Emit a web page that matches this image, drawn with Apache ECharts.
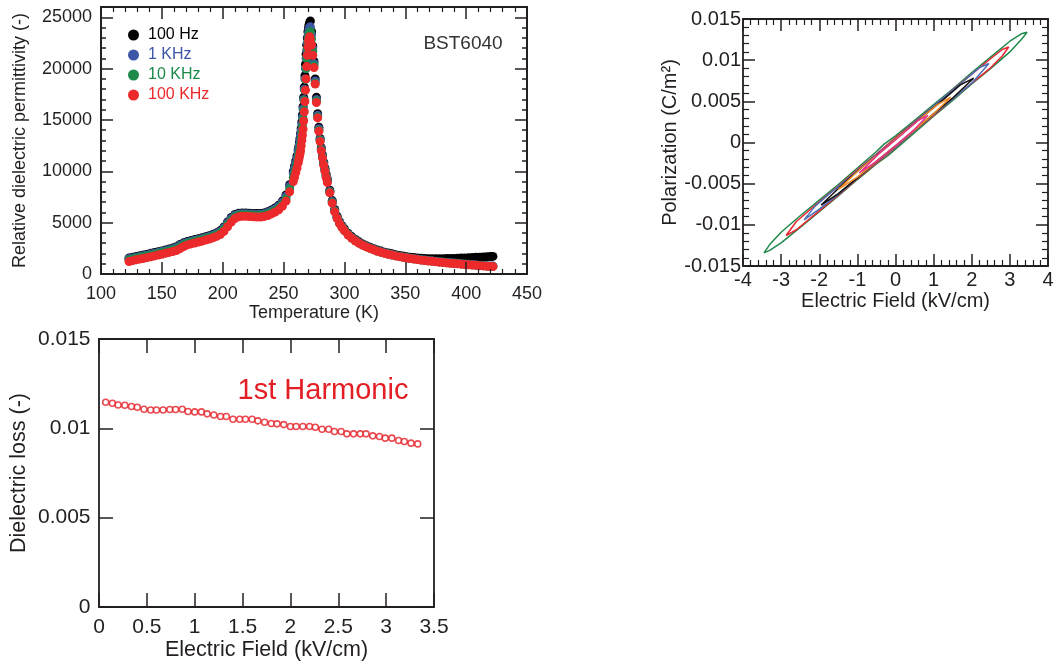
<!DOCTYPE html>
<html><head><meta charset="utf-8">
<script src="https://cdn.jsdelivr.net/npm/echarts@6/dist/echarts.min.js"></script>
<style>html,body{margin:0;padding:0;background:#fff}#c{width:1060px;height:662px}</style>
</head><body><div id="c"></div>
<script>
// ---------- Panel 1: relative permittivity vs temperature ----------
const temperatureK = [
123,126,129,132,135,138,141,144,147,150,
153,156,159,162,165,168,171,174,177,180,
183,186,189,192,195,198,201,204,207,210,
213,216,219,222,225,228,231,234,237,240,
243,246,249,252,255,258,259,260,261,262,
262.5,263,263.5,264,264.5,265,265.5,266,266.5,267,
267.5,268,268.5,269,269.5,270,270.5,271,271.5,272,
273,274,275,276,277,278,279,280,281,282,
283,284,285,286,288,290,292,294,296,298,
300,303,306,309,312,315,318,321,324,327,
330,333,336,339,342,345,348,351,354,357,
360,363,366,369,372,375,378,381,384,387,
390,393,396,399,402,405,408,411,414,417,
420,422];
const eps100Hz = [
1550,1630,1710,1780,1850,1930,2010,2090,2170,2250,
2340,2430,2530,2650,2870,3050,3170,3260,3350,3440,
3530,3630,3730,3860,4010,4230,4580,5070,5500,5800,
5920,5940,5930,5910,5890,5880,5890,5950,6060,6230,
6430,6700,7100,7700,8700,10000,10500,11000,11500,12100,
12400,12800,13200,13700,14200,14800,15500,16300,17200,18200,
19300,20400,21400,22300,23000,23600,24000,24300,24500,24640,
23600,22200,20700,19000,17200,15600,14300,13200,12300,11600,
10900,10300,9700,9200,8150,7150,6280,5620,5100,4700,
4380,3970,3640,3360,3130,2930,2760,2610,2470,2340,
2230,2130,2040,1960,1880,1810,1750,1690,1640,1600,
1560,1530,1510,1490,1480,1480,1480,1490,1500,1510,
1520,1540,1550,1570,1590,1600,1620,1640,1660,1680,
1700,1710];
const eps1kHz = [
1480,1560,1640,1710,1780,1860,1940,2020,2100,2180,
2270,2360,2460,2580,2790,2980,3100,3190,3280,3370,
3460,3560,3660,3790,3940,4150,4500,4980,5410,5720,
5850,5870,5860,5840,5810,5800,5810,5870,5980,6150,
6340,6600,6990,7560,8550,9800,10300,10800,11300,11900,
12200,12600,13000,13500,14000,14600,15300,16100,17000,18000,
19000,20000,21000,21800,22500,23100,23500,23850,24000,24080,
23300,22000,20500,18800,17000,15450,14150,13100,12200,11500,
10800,10200,9600,9100,8050,7050,6180,5520,5010,4620,
4300,3890,3560,3280,3050,2860,2690,2540,2400,2270,
2160,2060,1970,1890,1810,1740,1670,1610,1550,1500,
1450,1400,1360,1320,1280,1240,1200,1170,1130,1100,
1070,1040,1005,975,945,915,890,860,835,810,
785,770];
const eps10kHz = [
1390,1470,1550,1620,1690,1770,1850,1930,2010,2090,
2180,2270,2360,2460,2660,2860,3000,3100,3190,3280,
3370,3470,3570,3690,3830,4030,4350,4800,5240,5580,
5740,5780,5770,5750,5720,5700,5710,5760,5860,6010,
6190,6430,6800,7330,8300,9400,9850,10300,10800,11350,
11650,12000,12350,12750,13250,13800,14400,15100,15950,16900,
17900,18950,20000,21000,21900,22600,23100,23400,23550,23600,
22900,21700,20300,18600,16850,15300,14000,13000,12100,11400,
10700,10100,9500,9000,7980,6980,6120,5460,4960,4570,
4250,3850,3520,3240,3020,2830,2660,2510,2370,2240,
2130,2030,1940,1860,1780,1710,1640,1580,1520,1470,
1420,1370,1330,1290,1250,1210,1170,1140,1100,1070,
1040,1010,975,945,915,885,860,830,805,780,
755,740];
const eps100kHz = [
1220,1300,1380,1450,1520,1600,1680,1760,1840,1920,
2010,2100,2190,2290,2470,2680,2830,2930,3020,3110,
3200,3300,3400,3520,3660,3850,4150,4600,5050,5400,
5570,5620,5620,5600,5570,5550,5550,5600,5700,5850,
6020,6250,6600,7100,8000,9000,9400,9850,10300,10800,
11100,11400,11700,12000,12500,13000,13500,14100,14900,15800,
16800,17900,19000,20200,21300,22100,22700,23000,23100,22800,
22300,21300,20100,18500,16700,15200,13900,12900,12000,11300,
10600,10000,9400,8900,7900,6900,6050,5400,4900,4520,
4200,3800,3480,3210,2990,2800,2640,2490,2350,2220,
2110,2010,1920,1840,1760,1690,1620,1560,1500,1450,
1400,1350,1310,1270,1230,1190,1150,1120,1080,1050,
1020,990,955,925,895,865,840,810,785,760,
735,720];
const freqNames = ['100 Hz', '1 KHz', '10 KHz', '100 KHz'];
const freqColors = ['#000000', '#3d56a6', '#1b8a4b', '#ec2a2c'];

// ---------- Panel 2: P-E loops (lower branch left->right, then upper branch back) ----------
const greenLoopE = [-3.45,-3.3,-3.0,-2.5,-2.0,-1.5,-1.0,-0.5,-0.2,0.0,0.5,1.0,1.5,2.0,2.5,3.0,3.3,3.45,
  3.3,3.0,2.5,2.0,1.5,1.0,0.5,0.0,-0.3,-0.5,-1.0,-1.5,-2.0,-2.5,-3.0,-3.3,-3.45];
const greenLoopP = [-0.0134,-0.0131,-0.0122,-0.0103,-0.0084,-0.0065,-0.0045,-0.0026,-0.0016,-0.0008,0.0012,0.0032,0.0051,0.0071,0.0090,0.0110,0.0125,0.0134,
  0.0132,0.0123,0.0104,0.0085,0.0065,0.0046,0.0027,0.0008,-0.0002,-0.0011,-0.0031,-0.0051,-0.0070,-0.0089,-0.0109,-0.0124,-0.0134];
const redLoopE = [-2.87,-2.6,-2.0,-1.5,-1.0,-0.5,0.0,0.5,1.0,1.5,2.0,2.5,2.8,2.97,
  2.8,2.5,2.0,1.5,1.0,0.5,0.0,-0.5,-1.0,-1.5,-2.0,-2.6,-2.87];
const redLoopP = [-0.0113,-0.0106,-0.0083,-0.0064,-0.0044,-0.0025,-0.0006,0.0014,0.0033,0.0053,0.0072,0.0091,0.0105,0.0116,
  0.0113,0.0102,0.0083,0.0064,0.0044,0.0025,0.0006,-0.0014,-0.0033,-0.0053,-0.0072,-0.0096,-0.0113];
const blueLoopE = [-2.4,-2.0,-1.5,-1.0,-0.5,0.0,0.5,1.0,1.5,2.0,2.45,
  2.2,1.8,1.3,0.8,0.3,-0.2,-0.7,-1.2,-1.7,-2.1,-2.4];
const blueLoopP = [-0.0094,-0.0081,-0.0063,-0.0043,-0.0024,-0.0005,0.0014,0.0034,0.0053,0.0072,0.0096,
  0.0091,0.0075,0.0056,0.0036,0.0017,-0.0003,-0.0022,-0.0042,-0.0061,-0.0077,-0.0094];
const blackLoopE = [-1.95,-1.5,-1.0,-0.5,0.0,0.5,1.0,1.5,2.05,
  1.7,1.2,0.7,0.2,-0.3,-0.8,-1.3,-1.95];
const blackLoopP = [-0.0076,-0.0062,-0.0043,-0.0023,-0.0004,0.0015,0.0035,0.0054,0.0078,
  0.0070,0.0050,0.0031,0.0012,-0.0008,-0.0027,-0.0047,-0.0076];
const orangeLoopE = [-1.5,-1.0,-0.5,0.0,0.5,1.0,1.45,
  1.1,0.6,0.1,-0.4,-0.9,-1.5];
const orangeLoopP = [-0.0057,-0.0042,-0.0023,-0.0004,0.0015,0.0035,0.0055,
  0.0046,0.0027,0.0008,-0.0012,-0.0031,-0.0057];
const pinkLoopE = [-0.95,-0.5,0.0,0.5,0.85,
  0.6,0.1,-0.4,-0.95];
const pinkLoopP = [-0.0037,-0.0023,-0.0004,0.0016,0.0033,
  0.0027,0.0007,-0.0012,-0.0037];

// ---------- Panel 3: dielectric loss vs field ----------
const lossField = [0.07,0.14,0.20,0.27,0.34,0.40,0.47,0.54,0.60,0.67,
  0.74,0.80,0.87,0.93,1.00,1.07,1.13,1.20,1.27,1.33,
  1.40,1.47,1.53,1.60,1.66,1.73,1.80,1.86,1.93,2.00,
  2.06,2.13,2.20,2.26,2.33,2.40,2.46,2.53,2.59,2.66,
  2.73,2.79,2.86,2.93,2.99,3.06,3.13,3.19,3.26,3.33];
const lossValue = [0.01146,0.01140,0.01131,0.01129,0.01122,0.01118,0.01107,0.01103,0.01103,0.01103,
  0.01105,0.01105,0.01107,0.01094,0.01092,0.01092,0.01081,0.01075,0.01066,0.01066,
  0.01051,0.01051,0.01051,0.01051,0.01042,0.01034,0.01027,0.01025,0.01021,0.01010,
  0.01010,0.01010,0.01010,0.01006,0.00995,0.00995,0.00982,0.00982,0.00969,0.00969,
  0.00969,0.00969,0.00958,0.00954,0.00945,0.00945,0.00932,0.00926,0.00917,0.00913];

// ---------- helpers ----------
const FONT = "'Liberation Sans', Arial, Helvetica, sans-serif";
const INK = '#231f20';
function pairs(xs, ys) { return xs.map((x, i) => [x, ys[i]]); }
function fmt(v) { return String(+(+v).toFixed(6)); }

function mkAxis(o) {
  const a = {
    type: 'value', gridIndex: o.grid, position: o.pos, min: o.min, max: o.max, interval: o.interval,
    axisLine: { show: true, onZero: false, lineStyle: { color: INK, width: 1.8 } },
    axisTick: { show: true, inside: true, length: o.tickLen, lineStyle: { color: INK, width: 1.5 } },
    minorTick: { show: !!o.minor, splitNumber: o.minor || 5, length: o.minorLen || 5, lineStyle: { color: INK, width: 1.2 } },
    splitLine: { show: false }, minorSplitLine: { show: false },
    axisLabel: { show: !!o.labels, margin: o.margin || 8, fontSize: o.fs || 18, fontFamily: FONT, color: INK,
      formatter: o.labelFmt || fmt, showMinLabel: true, showMaxLabel: true },
    z: 10
  };
  if (o.name) {
    a.name = o.name; a.nameLocation = 'middle'; a.nameGap = o.nameGap;
    a.nameTextStyle = { fontSize: o.nfs || 18, fontFamily: FONT, color: INK };
  }
  return a;
}

const p1Fmt = v => (Math.round(v) % 5000 === 0 ? String(Math.round(v)) : '');

const option = {
  animation: false,
  backgroundColor: '#ffffff',
  grid: [
    { left: 101, top: 7, width: 426, height: 267 },
    { left: 743, top: 19, width: 305, height: 247 },
    { left: 99, top: 339, width: 335, height: 268 }
  ],
  xAxis: [
    mkAxis({ grid: 0, pos: 'bottom', min: 100, max: 450, interval: 50, tickLen: 12, minor: 5, minorLen: 5, labels: true, margin: 11, fs: 18,
      name: 'Temperature (K)', nameGap: 25, nfs: 18 }),
    mkAxis({ grid: 0, pos: 'top', min: 100, max: 450, interval: 50, tickLen: 12, minor: 5, minorLen: 5 }),
    mkAxis({ grid: 1, pos: 'bottom', min: -4, max: 4, interval: 1, tickLen: 12, minor: 5, minorLen: 6, labels: true, margin: 4, fs: 20,
      name: 'Electric Field (kV/cm)', nameGap: 25, nfs: 20 }),
    mkAxis({ grid: 1, pos: 'top', min: -4, max: 4, interval: 1, tickLen: 12, minor: 5, minorLen: 6 }),
    mkAxis({ grid: 2, pos: 'bottom', min: 0, max: 3.5, interval: 0.5, tickLen: 14, labels: true, margin: 10, fs: 21,
      name: 'Electric Field (kV/cm)', nameGap: 31, nfs: 21.5 }),
    mkAxis({ grid: 2, pos: 'top', min: 0, max: 3.5, interval: 0.5, tickLen: 14 })
  ],
  yAxis: [
    mkAxis({ grid: 0, pos: 'left', min: 0, max: 26000, interval: 5000, tickLen: 12, labels: true, margin: 9, fs: 18, labelFmt: p1Fmt,
      name: 'Relative dielectric permittivity (-)', nameGap: 72, nfs: 18 }),
    mkAxis({ grid: 0, pos: 'left', min: 0, max: 26000, interval: 1000, tickLen: 5 }),
    mkAxis({ grid: 0, pos: 'right', min: 0, max: 26000, interval: 5000, tickLen: 12 }),
    mkAxis({ grid: 0, pos: 'right', min: 0, max: 26000, interval: 1000, tickLen: 5 }),
    mkAxis({ grid: 1, pos: 'left', min: -0.015, max: 0.015, interval: 0.005, tickLen: 12, minor: 5, minorLen: 6, labels: true, margin: 2, fs: 20,
      name: 'Polarization (C/m\u00b2)', nameGap: 62, nfs: 20 }),
    mkAxis({ grid: 1, pos: 'right', min: -0.015, max: 0.015, interval: 0.005, tickLen: 12, minor: 5, minorLen: 6 }),
    mkAxis({ grid: 2, pos: 'left', min: 0, max: 0.015, interval: 0.005, tickLen: 14, labels: true, margin: 8.5, fs: 21,
      name: 'Dielectric loss (-)', nameGap: 69, nfs: 21.5 }),
    mkAxis({ grid: 2, pos: 'right', min: 0, max: 0.015, interval: 0.005, tickLen: 14 })
  ],
  legend: {
    show: true, orient: 'vertical', left: 123, top: 22, itemWidth: 11, itemHeight: 11, itemGap: 4,
    icon: 'circle', selectedMode: false,
    textStyle: { fontSize: 16, fontFamily: FONT, padding: [0, 0, 0, 4] },
    data: freqNames.map((n, i) => ({ name: n, textStyle: { color: freqColors[i] } }))
  },
  graphic: [
    { type: 'text', x: 463, y: 44, z: 100, style: { text: 'BST6040', fontSize: 19, fontFamily: FONT, fill: '#333333', align: 'center', verticalAlign: 'middle' } },
    { type: 'text', x: 323, y: 391, z: 100, style: { text: '1st Harmonic', fontSize: 29, fontFamily: FONT, fill: '#e31e24', align: 'center', verticalAlign: 'middle' } }
  ],
  series: []
};

const epsSeries = [eps100Hz, eps1kHz, eps10kHz, eps100kHz];
epsSeries.forEach((vals, i) => {
  option.series.push({
    name: freqNames[i], type: 'scatter', xAxisIndex: 0, yAxisIndex: 0,
    symbol: 'circle', symbolSize: 9, itemStyle: { color: freqColors[i], opacity: 1 },
    data: pairs(temperatureK, vals), z: 2 + i
  });
});

const loops = [
  [greenLoopE, greenLoopP, '#1f8a4c'],
  [redLoopE, redLoopP, '#e8262f'],
  [blueLoopE, blueLoopP, '#4a6fb5'],
  [blackLoopE, blackLoopP, '#111111'],
  [orangeLoopE, orangeLoopP, '#f08a24'],
  [pinkLoopE, pinkLoopP, '#e8308a']
];
loops.forEach((l, i) => {
  option.series.push({
    type: 'line', xAxisIndex: 2, yAxisIndex: 4, showSymbol: false, symbol: 'none', smooth: false,
    lineStyle: { color: l[2], width: 1.5 }, data: pairs(l[0], l[1]), z: 2 + i, silent: true
  });
});

option.series.push({
  type: 'scatter', xAxisIndex: 4, yAxisIndex: 6, symbol: 'circle', symbolSize: 6,
  itemStyle: { color: '#ffffff', borderColor: '#e31e24', borderWidth: 1.6 },
  data: pairs(lossField, lossValue)
});

const chart = echarts.init(document.getElementById('c'), null, { renderer: 'canvas' });
chart.setOption(option);
</script></body></html>
